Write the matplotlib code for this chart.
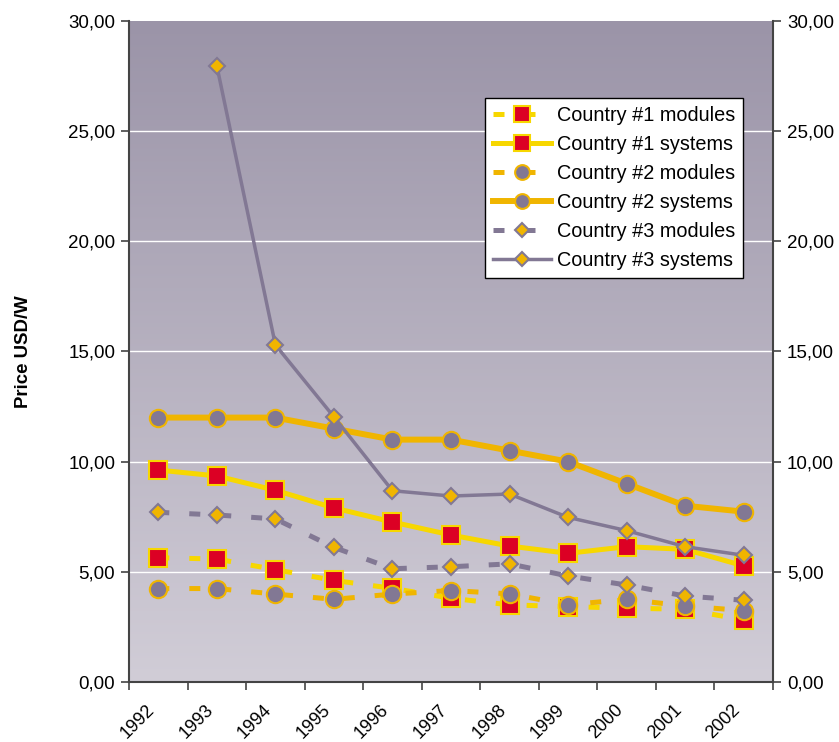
import numpy as np
import matplotlib
matplotlib.use("Agg")
import matplotlib.pyplot as plt
import matplotlib.transforms as mtransforms
from matplotlib.ticker import FuncFormatter, FixedLocator

plt.rcParams['font.family'] = ['Liberation Sans', 'DejaVu Sans']

years = ["1992", "1993", "1994", "1995", "1996", "1997",
         "1998", "1999", "2000", "2001", "2002"]

c1_modules = [5.64, 5.58, 5.10, 4.61, 4.25, 3.80, 3.50, 3.42, 3.35, 3.30, 2.81]
c1_systems = [9.62, 9.35, 8.70, 7.90, 7.26, 6.67, 6.17, 5.84, 6.14, 6.02, 5.27]
c2_modules = [4.24, 4.24, 3.99, 3.75, 3.99, 4.15, 4.00, 3.50, 3.75, 3.45, 3.24]
c2_systems = [12.0, 12.0, 12.0, 11.5, 11.0, 11.0, 10.5, 10.0, 9.0, 8.0, 7.73]
c3_modules = [7.70, 7.58, 7.40, 6.11, 5.14, 5.23, 5.36, 4.81, 4.40, 3.90, 3.71]
c3_systems = [np.nan, 27.96, 15.30, 12.03, 8.68, 8.44, 8.53, 7.47, 6.87, 6.14, 5.75]

names = ["Country #1 modules", "Country #1 systems",
         "Country #2 modules", "Country #2 systems",
         "Country #3 modules", "Country #3 systems"]

yellow = "#f7d700"
orange = "#f0b500"
grey = "#827894"
red = "#dc0024"

dash = (0, (2.2, 4.0))

fig = plt.figure(figsize=(8.39, 7.42), dpi=100)
ax = fig.add_axes([0.1538, 0.0809, 0.7675, 0.8908])

x = np.arange(len(years))

# vertical gradient behind the plot area
top_c = np.array([0x9b, 0x94, 0xa8]) / 255.
bot_c = np.array([0xd1, 0xcd, 0xd7]) / 255.
t = np.linspace(0, 1, 256)[:, None]
grad = (top_c * (1 - t) + bot_c * t)[:, None, :]
ax.imshow(grad, extent=[0, 1, 0, 1], transform=ax.transAxes,
          aspect='auto', zorder=0, interpolation='bilinear')

for yv in [5, 10, 15, 20, 25]:
    ax.axhline(yv, color='white', lw=1.0, zorder=1)

ax.plot(x, c1_modules, ls=dash, lw=3.6, color=yellow, marker='s', ms=13,
        mfc=red, mec=yellow, mew=1.5, label=names[0], zorder=3)
ax.plot(x, c1_systems, ls='-', lw=3.6, color=yellow, marker='s', ms=13,
        mfc=red, mec=yellow, mew=1.5, label=names[1], zorder=3)
ax.plot(x, c2_modules, ls=dash, lw=3.6, color=orange, marker='o', ms=12.5,
        mfc=grey, mec=orange, mew=1.5, label=names[2], zorder=3)
ax.plot(x, c2_systems, ls='-', lw=4.3, color=orange, marker='o', ms=12.5,
        mfc=grey, mec=orange, mew=1.5, label=names[3], zorder=3)
ax.plot(x, c3_modules, ls=dash, lw=3.6, color=grey, marker='D', ms=8,
        mfc=orange, mec=grey, mew=1.5, label=names[4], zorder=3)
ax.plot(x, c3_systems, ls='-', lw=2.5, color=grey, marker='D', ms=8,
        mfc=orange, mec=grey, mew=1.5, label=names[5], zorder=3)

ax.set_xlim(-0.5, len(years) - 0.5)
ax.set_ylim(0, 30)

fmt = FuncFormatter(lambda v, p: "{:.2f}".format(v).replace('.', ','))
ax.yaxis.set_major_locator(FixedLocator(np.arange(0, 31, 5)))
ax.yaxis.set_major_formatter(fmt)

ax.xaxis.set_major_locator(FixedLocator(np.arange(-0.5, len(years), 1.0)))
ax.xaxis.set_major_formatter(FuncFormatter(lambda v, p: ""))
ax.xaxis.set_minor_locator(FixedLocator(x))
ax.set_xticklabels(years, minor=True, rotation=45, ha='right',
                   rotation_mode='anchor', fontsize=13)
ax.tick_params(axis='x', which='minor', length=0, pad=12)
ax.tick_params(axis='x', which='major', length=6, width=1.2,
               color='#444444', direction='out')
ax.tick_params(axis='y', length=6, width=1.2, color='#444444',
               labelsize=13.5, pad=4)

# nudge the slanted year labels to the left and a little down
shift = mtransforms.ScaledTranslation(-12 / 100., -3 / 100., fig.dpi_scale_trans)
for lab in ax.xaxis.get_minorticklabels():
    lab.set_transform(lab.get_transform() + shift)

for s in ['left', 'right', 'bottom']:
    ax.spines[s].set_color('#444444')
    ax.spines[s].set_linewidth(1.5)
ax.spines['top'].set_visible(False)

ax2 = ax.twinx()
ax2.set_ylim(0, 30)
ax2.yaxis.set_major_locator(FixedLocator(np.arange(0, 31, 5)))
ax2.yaxis.set_major_formatter(fmt)
ax2.tick_params(axis='y', length=6, width=1.2, color='#444444',
                labelsize=13.5, pad=4)
for s in ['left', 'right', 'bottom', 'top']:
    ax2.spines[s].set_visible(False)

ax.set_ylabel("Price USD/W", fontsize=13.4, fontweight='bold', labelpad=26)

leg = ax.legend(loc='upper right', bbox_to_anchor=(0.953, 0.8835),
                fontsize=14.3, frameon=True, fancybox=False, framealpha=1,
                edgecolor='black', handlelength=2.9, labelspacing=0.5,
                borderaxespad=0, handletextpad=0.3, borderpad=0.4,
                markerscale=0.85)
leg.get_frame().set_linewidth(1.0)
leg.set_zorder(5)

fig.savefig("out.png", dpi=100)
